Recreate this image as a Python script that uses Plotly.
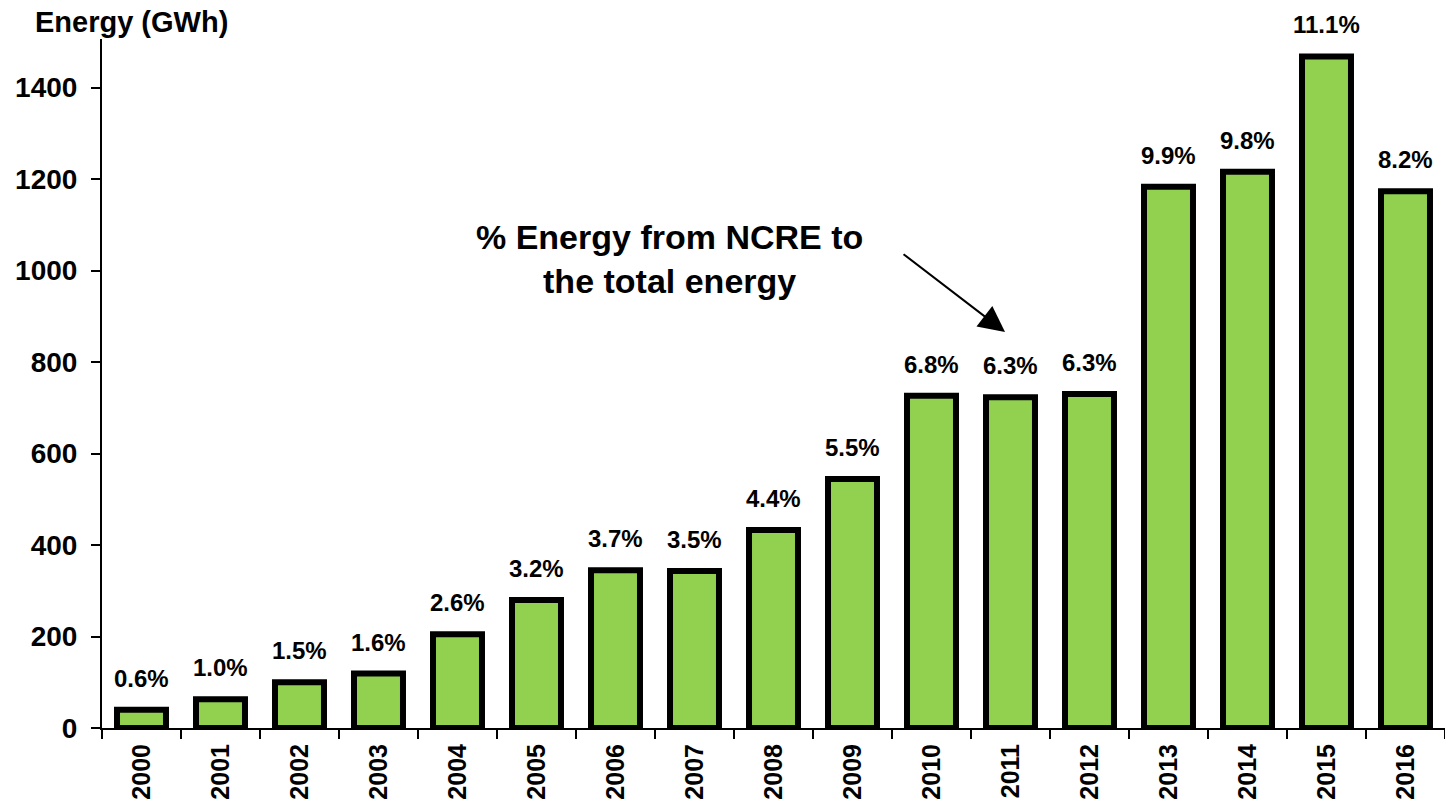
import plotly.graph_objects as go

years = [str(y) for y in range(2000, 2017)]
energy_gwh = [40, 63, 100, 119, 205, 280, 345, 343, 433, 544, 726, 723, 730, 1183, 1216, 1468, 1173]
pct_labels = ["0.6%", "1.0%", "1.5%", "1.6%", "2.6%", "3.2%", "3.7%", "3.5%", "4.4%",
              "5.5%", "6.8%", "6.3%", "6.3%", "9.9%", "9.8%", "11.1%", "8.2%"]
y_ticks = [0, 200, 400, 600, 800, 1000, 1200, 1400]

FONT = "Liberation Sans, Arial, sans-serif"

fig = go.Figure()
fig.add_trace(go.Bar(
    x=years, y=energy_gwh,
    marker=dict(color="#92D050", line=dict(color="black", width=6)),
    hoverinfo="skip",
))

annotations = []
for i, (v, lab) in enumerate(zip(energy_gwh, pct_labels)):
    annotations.append(dict(
        x=i, y=v, xref="x", yref="y", text=lab, showarrow=False,
        yanchor="bottom", yshift=16,
        font=dict(family=FONT, size=24, color="black", weight="bold"),
    ))

annotations.append(dict(
    xref="paper", yref="paper", x=-69 / 1343, y=1 + 17 / 689,
    xanchor="left", yanchor="middle", text="Energy (GWh)", showarrow=False,
    font=dict(family=FONT, size=29, color="black", weight="bold"),
))
annotations.append(dict(
    xref="paper", yref="paper", x=0.4229, y=0.6814,
    xanchor="center", yanchor="middle",
    text="% Energy from NCRE to<br>the total energy", showarrow=False,
    font=dict(family=FONT, size=34, color="black", weight="bold"),
))
annotations.append(dict(
    xref="paper", yref="paper", x=0.6724, y=0.5747, text="",
    showarrow=True, ax=-103, ay=-79, arrowhead=2, arrowsize=2.6,
    arrowwidth=2, arrowcolor="black",
))

fig.update_layout(
    width=1445, height=803,
    margin=dict(l=102, r=0, t=39, b=75),
    plot_bgcolor="white", paper_bgcolor="white",
    bargap=0.38, showlegend=False,
    annotations=annotations,
    font=dict(family=FONT, color="black"),
)
fig.update_xaxes(
    type="category", range=[-0.5, len(years) - 0.5],
    showline=True, linecolor="black", linewidth=2,
    ticks="outside", tickson="boundaries", ticklen=9, tickwidth=2, tickcolor="black",
    tickangle=-90, tickfont=dict(family=FONT, size=25, color="black", weight="bold"),
    showgrid=False, zeroline=False, ticklabelstandoff=4,
)
fig.update_yaxes(
    range=[0, 1506], tickvals=y_ticks, showline=True, linecolor="black", linewidth=2,
    ticks="outside", ticklen=9, tickwidth=2, tickcolor="black",
    tickfont=dict(family=FONT, size=28, color="black", weight="bold"),
    showgrid=False, zeroline=False, ticklabelstandoff=8,
)

fig.write_html("out.html")
